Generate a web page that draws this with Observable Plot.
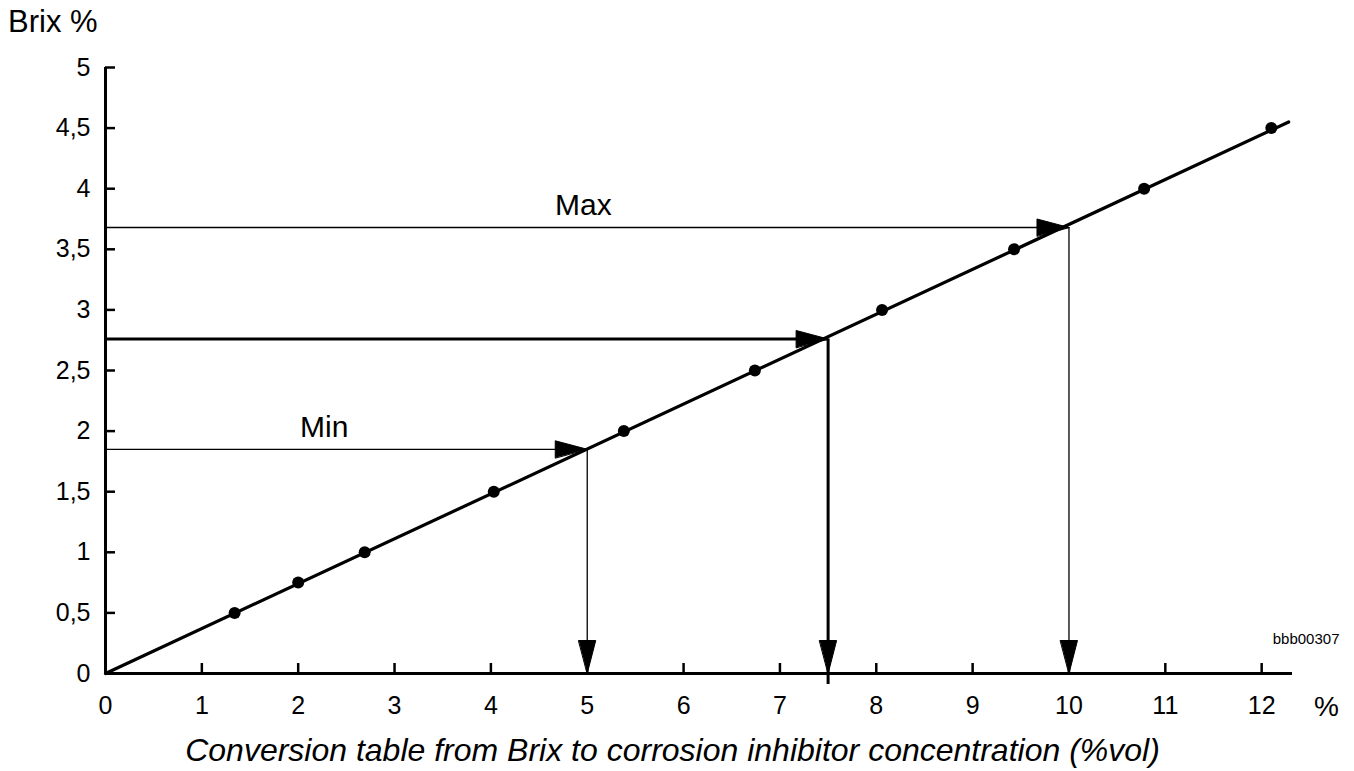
<!DOCTYPE html>
<html>
<head>
<meta charset="utf-8">
<script src="https://cdn.jsdelivr.net/npm/d3@7"></script>
<script src="https://cdn.jsdelivr.net/npm/@observablehq/plot@0.6"></script>
<style>
  html, body { margin: 0; padding: 0; background: #fff; }
  body { width: 1354px; height: 771px; overflow: hidden; font-family: "Liberation Sans", Arial, Helvetica, sans-serif; color: #000; }
  #title { height: 38px; padding: 2px 0 0 8px; font-size: 31px; line-height: 40px; }
  #chart { height: 690px; }
  #chart svg { display: block; }
  #caption { height: 41px; font-size: 32px; line-height: 41px; font-style: italic; text-align: center; padding-right: 9px; white-space: nowrap; }
</style>
</head>
<body>
<div id="title">Brix %</div>
<div id="chart"></div>
<div id="caption">Conversion table from Brix to corrosion inhibitor concentration (%vol)</div>
<script>
// ---- data ----
const xTicks = [0, 1, 2, 3, 4, 5, 6, 7, 8, 9, 10, 11, 12];
const yTicks = [0, 0.5, 1, 1.5, 2, 2.5, 3, 3.5, 4, 4.5, 5];

// measured points on the conversion line (% vol, Brix %)
const pointPct  = [1.34, 2.0, 2.69, 4.03, 5.38, 6.74, 8.06, 9.43, 10.78, 12.1];
const pointBrix = [0.5, 0.75, 1, 1.5, 2, 2.5, 3, 3.5, 4, 4.5];

// conversion line end points
const linePct  = [0, 12.28];
const lineBrix = [0, 4.55];

// reading guides (Min, working value, Max)
const guideLabel  = ["Min", "", "Max"];
const guidePct    = [5, 7.5, 10];
const guideBrix   = [1.85, 2.76, 3.68];
const guideWeight = ["thin", "thick", "thin"];
const labelPct    = [2.27, null, 4.96];

const xAxisUnit = "%";
const imageCode = "bbb00307";

// ---- tables built from the arrays ----
const points = pointPct.map((x, i) => ({x, y: pointBrix[i]}));
const line = linePct.map((x, i) => ({x, y: lineBrix[i]}));
const guides = guidePct.map((x, i) => ({x, y: guideBrix[i], label: guideLabel[i], weight: guideWeight[i], lx: labelPct[i]}));
const thin = guides.filter(d => d.weight === "thin");
const thick = guides.filter(d => d.weight === "thick");
const labelled = guides.filter(d => d.label);

const W = 1354, H = 690;
const mL = 105, mR = 62, mT = 27, mB = 57;
const frameW = W - mL - mR, frameH = H - mT - mB;

const triangle = {
  draw(context, l) {
    context.moveTo(0, -l);
    context.lineTo(-8.5, 0);
    context.lineTo(8.5, 0);
    context.closePath();
  }
};

const fmt = d => String(d).replace(".", ",");

const chart = Plot.plot({
  width: W,
  height: H,
  marginLeft: mL,
  marginRight: mR,
  marginTop: mT,
  marginBottom: mB,
  style: {fontFamily: '"Liberation Sans", Arial, Helvetica, sans-serif', color: "#000", background: "#fff"},
  x: {domain: [0, 12.32], axis: null},
  y: {domain: [0, 5], axis: null},
  marks: [
    // tick labels
    Plot.text(xTicks, {x: d => d, frameAnchor: "bottom", dy: 23, lineAnchor: "top", textAnchor: "middle", text: fmt, fontSize: 25, fill: "#000"}),
    Plot.text(yTicks, {y: d => d, frameAnchor: "left", dx: -15, textAnchor: "end", lineAnchor: "middle", text: fmt, fontSize: 25, fill: "#000"}),
    // inward ticks
    Plot.tickX(xTicks.filter(d => d > 0), {x: d => d, stroke: "#000", strokeWidth: 2.5, insetTop: frameH - 10}),
    Plot.tickY(yTicks.filter(d => d > 0), {y: d => d, stroke: "#000", strokeWidth: 2.5, insetRight: frameW - 10}),
    // axis lines
    Plot.ruleY([0], {stroke: "#000", strokeWidth: 3}),
    Plot.ruleX([0], {stroke: "#000", strokeWidth: 3}),
    // guides
    Plot.ruleY(thin, {y: "y", x1: 0, x2: "x", stroke: "#000", strokeWidth: 1.3}),
    Plot.ruleX(thin, {x: "x", y1: "y", y2: 0, stroke: "#000", strokeWidth: 1.3}),
    Plot.ruleY(thick, {y: "y", x1: 0, x2: "x", stroke: "#000", strokeWidth: 3}),
    Plot.ruleX(thick, {x: "x", y1: "y", y2: 0, stroke: "#000", strokeWidth: 3, insetBottom: -11}),
    // arrowheads
    Plot.vector(guides, {x: "x", y: "y", rotate: 90, anchor: "end", length: 32, shape: triangle, fill: "#000", stroke: "#000", strokeWidth: 1}),
    Plot.vector(guides, {x: "x", y: () => 0, rotate: 180, anchor: "end", length: 33, shape: triangle, fill: "#000", stroke: "#000", strokeWidth: 1}),
    // conversion line and points
    Plot.line(line, {x: "x", y: "y", stroke: "#000", strokeWidth: 3.2}),
    Plot.dot(points, {x: "x", y: "y", r: 6, fill: "#000", stroke: "none"}),
    // Min / Max labels
    Plot.text(labelled, {x: "lx", y: "y", text: "label", dy: -12, lineAnchor: "bottom", textAnchor: "middle", fontSize: 30, fill: "#000"}),
    // unit and code
    Plot.text([xAxisUnit], {frameAnchor: "bottom-right", dx: 34, dy: 23, lineAnchor: "top", textAnchor: "middle", fontSize: 28, fill: "#000"}),
    Plot.text([imageCode], {frameAnchor: "bottom-right", dx: 47, dy: -30, lineAnchor: "bottom", textAnchor: "end", fontSize: 15, fill: "#000"})
  ]
});
document.getElementById("chart").appendChild(chart);
</script>
</body>
</html>
